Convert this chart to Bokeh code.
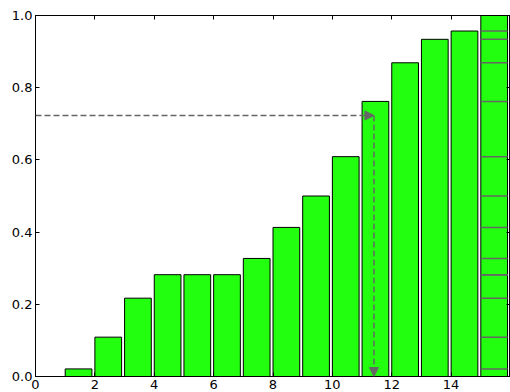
from bokeh.plotting import figure
from bokeh.models import (ColumnDataSource, LinearAxis, FixedTicker, Arrow,
                          NormalHead, Range1d, PrintfTickFormatter,
                          CustomJSTickFormatter)
from bokeh.embed import file_html
from bokeh.resources import INLINE

# Cumulative fraction per bin (bins start at 1..15)
bins = [1, 2, 3, 4, 5, 6, 7, 8, 9, 10, 11, 12, 13, 14, 15]
cumulative = [0.021, 0.109, 0.217, 0.282, 0.282, 0.282, 0.327, 0.413,
              0.500, 0.609, 0.762, 0.869, 0.934, 0.957, 1.0]

# Quantile lookup shown with dashed arrows
q_level = 0.723
q_value = 11.4

x_ticks = [0, 2, 4, 6, 8, 10, 12, 14, 16]
y_ticks = [0.0, 0.2, 0.4, 0.6, 0.8, 1.0]

bar_width = 0.9
GREEN = "#22ff0f"
FONT = "DejaVu Sans"

p = figure(width=510, height=392, output_backend="svg", toolbar_location=None,
           x_range=Range1d(0, 16), y_range=Range1d(0, 1),
           x_axis_location=None, y_axis_location=None,
           min_border_left=35, min_border_right=0,
           min_border_top=15, min_border_bottom=16)
p.grid.visible = False
p.outline_line_color = "black"
p.background_fill_color = "white"
p.border_fill_color = "white"

src = ColumnDataSource(dict(
    left=bins,
    right=[b + bar_width for b in bins],
    top=cumulative,
))
p.quad(left="left", right="right", bottom=0, top="top", source=src,
       fill_color=GREEN, line_color="black", line_width=1)

# Segment boundaries inside the final (total) bar
last = bins[-1]
p.segment(x0=[last] * (len(cumulative) - 1),
          x1=[last + bar_width] * (len(cumulative) - 1),
          y0=cumulative[:-1], y1=cumulative[:-1],
          line_color="#666666", line_width=1.5)

# Dashed arrows: level -> bar, then bar -> x axis
for (x0, y0, x1, y1) in [(0, q_level, q_value, q_level),
                         (q_value, q_level, q_value, 0)]:
    p.add_layout(Arrow(
        x_start=x0, y_start=y0, x_end=x1, y_end=y1,
        line_color="#666666", line_width=1.5, line_dash="6 3",
        end=NormalHead(size=9, fill_color="#666666", line_color="#666666",
                       line_width=1)))


def make_axis(ticks, labels):
    ax = LinearAxis(ticker=FixedTicker(ticks=ticks))
    ax.major_tick_in = 4
    ax.major_tick_out = 0
    ax.minor_tick_in = 0
    ax.minor_tick_out = 0
    ax.axis_line_color = "black"
    ax.major_tick_line_color = "black"
    if labels:
        ax.major_label_text_font = FONT
        ax.major_label_text_font_size = "13px"
        ax.major_label_text_color = "black"
        ax.major_label_standoff = 3
    else:
        # tick marks only, no labels
        ax.formatter = CustomJSTickFormatter(code="return ''")
        ax.major_label_standoff = 0
    return ax


bottom = make_axis(x_ticks, True)
# the last tick sits on the right edge of the frame; leave it unlabelled
bottom.major_label_overrides = {x_ticks[-1]: ""}
left = make_axis(y_ticks, True)
left.formatter = PrintfTickFormatter(format="%.1f")

p.add_layout(bottom, "below")
p.add_layout(left, "left")
p.add_layout(make_axis(x_ticks, False), "above")
p.add_layout(make_axis(y_ticks, False), "right")

open("out.html", "w").write(file_html(p, INLINE))
